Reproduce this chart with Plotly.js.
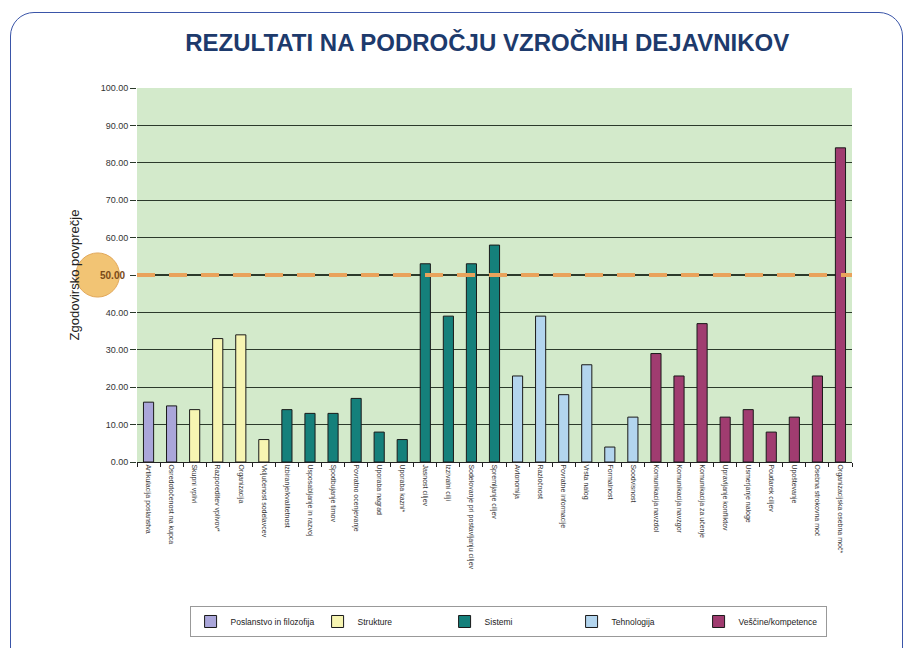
<!DOCTYPE html>
<html><head><meta charset="utf-8">
<script src="https://cdn.plot.ly/plotly-3.0.1.min.js"></script>
<style>
html,body{margin:0;padding:0;background:#fff;overflow:hidden;width:909px;height:648px;}
#frame{position:absolute;left:10px;top:12px;width:893px;height:660px;border:1.5px solid #3a55a8;border-radius:24px;pointer-events:none;box-sizing:border-box;}
#chart{position:absolute;left:0;top:0;width:909px;height:648px;}
</style></head>
<body>
<div id="chart"></div>
<div id="frame"></div>
<script>
const groupNames = ["Poslanstvo in filozofija","Strukture","Sistemi","Tehnologija","Veščine/kompetence"];
const groupColors = ["#aaa6da","#f7f5b2","#15807b","#b3d5ee","#a03c70"];
const cats1 = ["Artikulacija poslanstva","Osredotočenost na kupca"];
const vals1 = [16,15];
const cats2 = ["Skupni vplivi","Razporeditev vplivov*","Organizacija","Vključenost sodelavcev"];
const vals2 = [14,33,34,6];
const cats3 = ["Izbiranje/kvalitetnost","Usposabljanje in razvoj","Spodbujanje timov","Povratno ocenjevanje","Uporaba nagrad","Uporaba kazni*","Jasnost ciljev","Izzivalni cilji","Sodelovanje pri postavljanju ciljev","Spremljanje ciljev"];
const vals3 = [14,13,13,17,8,6,53,39,53,58];
const cats4 = ["Avtonomija","Razločnost","Povratne informacije","Vrsta nalog","Formalnost","Soodvisnost"];
const vals4 = [23,39,18,26,4,12];
const cats5 = ["Komunikacija navzdol","Komunikacija navzgor","Komunikacija za učenje","Upravljanje konfliktov","Usmerjanje naloge","Poudarek ciljev","Upoštevanje","Osebna strokovna moč","Organizacijska osebna moč*"];
const vals5 = [29,23,37,12,14,8,12,23,84];
const yTicks = [0,10,20,30,40,50,60,70,80,90,100];
const yTickText = ["0.00","10.00","20.00","30.00","40.00","","60.00","70.00","80.00","90.00","100.00"];
const refValue = 50;

const allCats = [].concat(cats1,cats2,cats3,cats4,cats5);
const groups = [[cats1,vals1],[cats2,vals2],[cats3,vals3],[cats4,vals4],[cats5,vals5]];
const traces = groups.map((g,i)=>({
  type:'bar', x:g[0], y:g[1], name:groupNames[i], width:0.44,
  marker:{color:groupColors[i], line:{color:'#1a1a1a', width:1}},
  hoverinfo:'x+y'
}));

const layout = {
  width:909, height:648,
  paper_bgcolor:'rgba(0,0,0,0)', plot_bgcolor:'#d3eacb',
  margin:{l:137, r:57, t:88, b:186, autoexpand:false},
  barmode:'overlay',
  font:{family:'Liberation Sans, Arial, sans-serif', color:'#333'},
  title:{text:'<b>REZULTATI NA PODROČJU VZROČNIH DEJAVNIKOV</b>', font:{size:24, color:'#1d3a6c', family:'Liberation Sans, Arial, sans-serif'}, x:0.536, xanchor:'center', y:0.935, yanchor:'middle', yref:'container'},
  xaxis:{type:'category', categoryorder:'array', categoryarray:allCats, tickangle:90, tickfont:{size:7, color:'#333'},
    ticks:'outside', tickson:'boundaries', ticklen:4, tickcolor:'#222', showline:true, linecolor:'#222', linewidth:1, showgrid:false, automargin:false},
  yaxis:{range:[0,100], tickvals:yTicks, ticktext:yTickText, tickfont:{size:9, color:'#333'},
    showgrid:true, gridcolor:'#2b3a2b', gridwidth:1.2, zeroline:false, showline:false,
    ticks:'outside', ticklen:6, tickcolor:'#2b3a2b',
    title:{text:'Zgodovirsko povprečje', font:{size:13, color:'#222'}, standoff:18}, automargin:false},
  showlegend:true,
  legend:{orientation:'h', x:0.519, xanchor:'center', y:-0.385, yanchor:'top', bordercolor:'#999', borderwidth:1, bgcolor:'#fff',
    font:{size:8.5, color:'#222'}, entrywidth:82, traceorder:'normal', itemwidth:30},
  shapes:[
    {type:'line', xref:'paper', x0:0, x1:1, yref:'y', y0:refValue, y1:refValue, line:{color:'#e9a35c', width:4, dash:'18px,14px'}},
    {type:'circle', xref:'paper', x0:-0.0855, x1:-0.0245, yref:'y', y0:refValue-5.9, y1:refValue+5.9, fillcolor:'#f2c474', line:{color:'#e2a85a', width:1}, layer:'above'}
  ],
  annotations:[
    {xref:'paper', x:-0.055, yref:'y', y:refValue, text:'<b>50.00</b>', showarrow:false, font:{size:10, color:'#7a4a18'}}
  ]
};
Plotly.newPlot('chart', traces, layout, {displayModeBar:false, staticPlot:true});
</script>
</body></html>
